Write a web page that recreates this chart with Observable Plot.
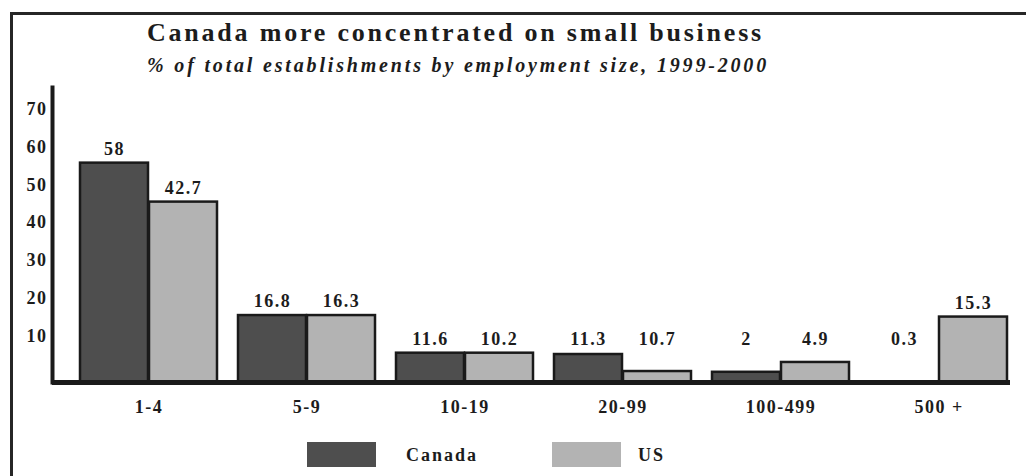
<!DOCTYPE html>
<html>
<head>
<meta charset="utf-8">
<script src="https://cdn.jsdelivr.net/npm/d3@7"></script>
<script src="https://cdn.jsdelivr.net/npm/@observablehq/plot@0.6"></script>
<style>
  body { margin: 0; background: #fff; color: #1c1c1c; }
  #wrap { position: relative; width: 1026px; height: 476px; overflow: hidden; }
  #border { position: absolute; left: 10px; top: 12px; width: 1100px; height: 520px;
            border-left: 3px solid #262626; border-top: 3px solid #262626; pointer-events: none; }
  #header { position: relative; height: 78px; }
  #title { position: absolute; left: 147px; top: 20px; font-size: 26px; line-height: 1; font-weight: bold;
           white-space: nowrap; color: #1c1c1c; }
  #subtitle { position: absolute; left: 147px; top: 55px; font-size: 20px; line-height: 1; font-weight: bold;
              font-style: italic; white-space: nowrap; color: #1c1c1c; }
  #legend { position: relative; height: 51px; }
  .sw { position: absolute; top: 17px; width: 69px; height: 25px; }
  .lt { position: absolute; top: 21px; font-size: 18px; line-height: 1; font-weight: bold; letter-spacing: 2px; color: #1c1c1c; }
</style>
</head>
<body>
<div id="wrap">
  <div id="header">
    <div id="title">Canada more concentrated on small business</div>
    <div id="subtitle">% of total establishments by employment size, 1999-2000</div>
  </div>
  <div id="chart"></div>
  <div id="legend"></div>
  <div id="border"></div>
</div>
<script>
// ---- data ----
const categories = ["1-4", "5-9", "10-19", "20-99", "100-499", "500 +"];
const series = ["Canada", "US"];
// value labels printed above the bars
const canadaLabels = ["58", "16.8", "11.6", "11.3", "2", "0.3"];
const usLabels = ["42.7", "16.3", "10.2", "10.7", "4.9", "15.3"];
// bar heights as actually drawn in the picture (y-axis units)
const canadaBars = [58, 17.7, 7.75, 7.4, 2.7, 0];
const usBars = [47.7, 17.7, 7.75, 2.9, 5.3, 17.3];
const yTicks = [10, 20, 30, 40, 50, 60, 70];

const colors = { Canada: "#4e4e4e", US: "#b3b3b3" };
const FONT = "'Liberation Serif', serif";

const canadaRows = categories.map((c, i) => ({ category: c, series: "Canada", height: canadaBars[i], label: canadaLabels[i] }));
const usRows = categories.map((c, i) => ({ category: c, series: "US", height: usBars[i], label: usLabels[i] }));

const labelFloor = 7.75; // labels of short bars sit on a common row
const half = 69;         // half of the band width: each series fills one half

const chart = Plot.plot({
  width: 1026,
  height: 347,
  marginTop: 9,
  marginBottom: 43,
  marginLeft: 52,
  marginRight: 16,
  style: "font-size: 18px; font-weight: bold; letter-spacing: 1.5px; color: #1c1c1c; background: transparent;",
  x: { domain: categories, paddingInner: 0.13, paddingOuter: 0.0851, align: 0.926, label: null },
  y: { domain: [0, 78], label: null },
  marks: [
    Plot.barY(canadaRows, { x: "category", y: "height", fill: colors.Canada, stroke: "#1a1a1a", strokeWidth: 2.5, insetRight: half }),
    Plot.barY(usRows, { x: "category", y: "height", fill: colors.US, stroke: "#1a1a1a", strokeWidth: 2.5, insetLeft: half }),
    Plot.text(canadaRows, { x: "category", y: d => Math.max(d.height, labelFloor), text: "label", dx: -half / 2, dy: -14, lineAnchor: "middle", fill: "#1c1c1c" }),
    Plot.text(usRows, { x: "category", y: d => Math.max(d.height, labelFloor), text: "label", dx: half / 2, dy: -14, lineAnchor: "middle", fill: "#1c1c1c" }),
    Plot.ruleY([0], { stroke: "#1a1a1a", strokeWidth: 5 }),
    Plot.frame({ anchor: "left", stroke: "#1a1a1a", strokeWidth: 4 }),
    Plot.axisY(yTicks, { tickSize: 0, tickPadding: 5, dy: -8.5, label: null }),
    Plot.axisX({ tickSize: 0, tickPadding: 18, label: null })
  ]
});
document.getElementById("chart").appendChild(chart);

// legend
const legend = document.getElementById("legend");
const legendPos = { Canada: [307, 406], US: [552, 638] };
series.forEach(s => {
  const sw = document.createElement("div");
  sw.className = "sw";
  sw.style.left = legendPos[s][0] + "px";
  sw.style.background = colors[s];
  legend.appendChild(sw);
  const t = document.createElement("div");
  t.className = "lt";
  t.style.left = legendPos[s][1] + "px";
  t.textContent = s;
  legend.appendChild(t);
});

// serif face on every text-bearing element
document.querySelectorAll("#wrap, #wrap *").forEach(el => el.style.setProperty("font-family", FONT));

// spread the heading lines to the width they occupy in the original
function fitWidth(el, target) {
  const n = el.textContent.length;
  const w = el.getBoundingClientRect().width;
  el.style.letterSpacing = ((target - w) / n) + "px";
}
fitWidth(document.getElementById("title"), 617);
fitWidth(document.getElementById("subtitle"), 622);
</script>
</body>
</html>
